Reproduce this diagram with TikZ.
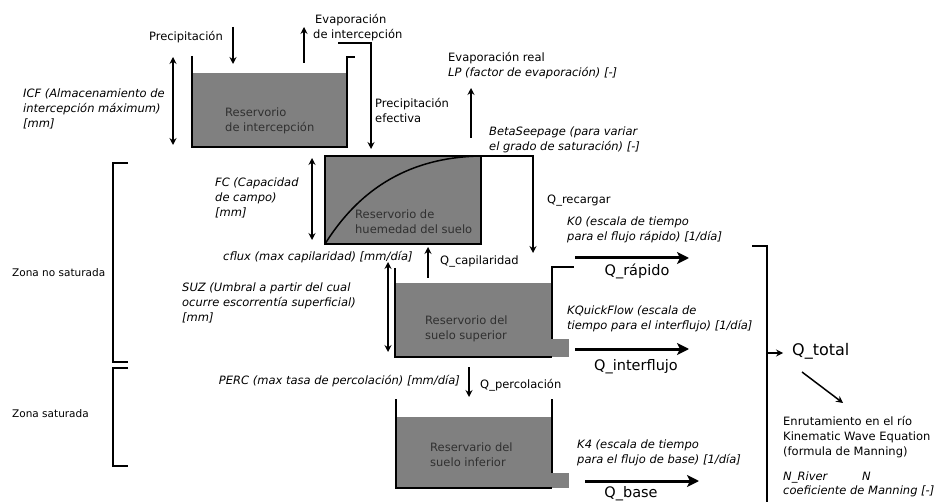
\documentclass[tikz,border=0pt]{standalone}
\usepackage{fontspec}
\setmainfont{DejaVu Sans}
\usetikzlibrary{arrows.meta}
\definecolor{resfill}{RGB}{128,128,128}
\definecolor{restext}{RGB}{48,48,48}
\begin{document}
\begin{tikzpicture}[x=1pt,y=-1pt,
  txt/.style={inner sep=0pt, anchor=north west, align=left, font=\fontsize{11.5}{15}\selectfont},
  itxt/.style={txt, font=\fontsize{11.5}{15}\selectfont\itshape},
  zonetxt/.style={txt, font=\fontsize{10.5}{13}\selectfont},
  restxt/.style={txt, text=restext, font=\fontsize{11.5}{15}\selectfont},
  flowtxt/.style={inner sep=0pt, anchor=north, font=\fontsize{14.5}{17}\selectfont},
  wall/.style={line width=2pt, line join=miter},
  thin/.style={line width=1.5pt, -{Stealth[length=7pt,width=7pt,inset=2.5pt]}},
  dbl/.style={line width=1.4pt, {Stealth[length=7pt,width=7pt,inset=2.5pt]}-{Stealth[length=7pt,width=7pt,inset=2.5pt]}},
  thick/.style={line width=3pt, -{Stealth[length=12pt,width=12pt,inset=3pt]}},
  brk/.style={line width=1.8pt}]
\useasboundingbox (0,0) rectangle (939,502);

% ---------- interception reservoir ----------
\fill[resfill] (192,73) rectangle (347,147);
\draw[wall] (192,56) -- (192,147) -- (347,147) -- (347,57) -- (355,57);
\node[restxt] (r1) at (225,108) {Reservorio\\de intercepción};

\coordinate (p1) at (233,27); \coordinate (p2) at (233,64);
\draw[thin] (p1) -- (p2);
\node[txt, anchor=north east] (prec) at (223,31) {Precipitación};

\coordinate (e1) at (304,63); \coordinate (e2) at (304,27);
\draw[thin, line width=2.2pt] (e1) -- (e2);
\node[txt] (evi) at (313,14) {\hspace*{2pt}Evaporación\\de intercepción};

\coordinate (pe1) at (338,43); \coordinate (pe2) at (371,43); \coordinate (pe3) at (371,149);
\draw[thin] (pe1) -- (pe2) -- (pe3);
\node[txt] (pef) at (375,98) {Precipitación\\efectiva};

\coordinate (icf1) at (173,57); \coordinate (icf2) at (173,145);
\draw[dbl] (icf1) -- (icf2);
\node[itxt] (icf) at (23,89) {ICF (Almacenamiento de\\intercepción máximum)\\{[}mm{]}};

% ---------- soil moisture reservoir ----------
\fill[resfill] (325,156) rectangle (481,244);
\draw[line width=1.5pt] (325,244) .. controls (365,180) and (420,157) .. (481,156);
\draw[wall] (325,156) rectangle (481,244);
\node[restxt] (r2) at (355,210) {Reservorio de\\huemedad del suelo};

\coordinate (qr1) at (481,156); \coordinate (qr2) at (533,156); \coordinate (qr3) at (533,253);
\draw[thin] (qr1) -- (qr2) -- (qr3);
\node[txt] (qrec) at (547,195) {Q\_recargar};

\coordinate (fc1) at (312,158); \coordinate (fc2) at (312,240);
\draw[dbl] (fc1) -- (fc2);
\node[itxt] (fc) at (215,178) {FC (Capacidad\\de campo)\\{[}mm{]}};

\coordinate (ev1) at (471,138); \coordinate (ev2) at (471,88);
\draw[thin] (ev1) -- (ev2);
\node[txt] (evr) at (448,52) {Evaporación real\\\itshape LP (factor de evaporación) [-]};
\node[itxt] (beta) at (489,127) {BetaSeepage (para variar\\el grado de saturación) [-]};

\node[itxt] (cflux) at (223,251) {cflux (max capilaridad) [mm/día]};
\coordinate (qc1) at (428,278); \coordinate (qc2) at (428,247);
\draw[thin] (qc1) -- (qc2);
\node[txt] (qcap) at (440,256) {Q\_capilaridad};

% ---------- upper soil reservoir ----------
\fill[resfill] (395,283) rectangle (552,357);
\fill[resfill] (552,339) rectangle (569,357);
\draw[wall] (395,268) -- (395,357) -- (552,357);
\draw[wall] (552,339) -- (552,267) -- (574,267);
\node[restxt] (r3) at (425,316) {Reservorio del\\suelo superior};

\coordinate (s1) at (388,262); \coordinate (s2) at (388,352);
\draw[dbl] (s1) -- (s2);
\node[itxt] (suz) at (182,283) {SUZ (Umbral a partir del cual\\ocurre escorrentía superficial)\\{[}mm{]}};

\node[itxt] (k0) at (567,217) {K0 (escala de tiempo\\para el flujo rápido) [1/día]};
\coordinate (qa1) at (575,258); \coordinate (qa2) at (689,258);
\draw[thick] (qa1) -- (qa2);
\node[flowtxt] (qrap) at (637,264) {Q\_rápido};

\node[itxt] (kq) at (567,306) {KQuickFlow (escala de\\tiempo para el interflujo) [1/día]};
\coordinate (qi1) at (575,349); \coordinate (qi2) at (689,349);
\draw[thick] (qi1) -- (qi2);
\node[flowtxt] (qint) at (636,359) {Q\_interflujo};

% ---------- percolation ----------
\node[itxt, anchor=north east] (perc) at (460,375) {PERC (max tasa de percolación) [mm/día]};
\coordinate (qp1) at (469,367); \coordinate (qp2) at (469,397);
\draw[thin] (qp1) -- (qp2);
\node[txt] (qperc) at (480,379) {Q\_percolación};

% ---------- lower soil reservoir ----------
\fill[resfill] (396,417) rectangle (552,488);
\fill[resfill] (552,473) rectangle (569,488);
\draw[wall] (396,399) -- (396,488) -- (552,488);
\draw[wall] (552,473) -- (552,399);
\node[restxt] (r4) at (430,443) {Reservario del\\suelo inferior};

\node[itxt] (k4) at (577,440) {K4 (escala de tiempo\\para el flujo de base) [1/día]};
\coordinate (qb1) at (585,481); \coordinate (qb2) at (699,481);
\draw[thick] (qb1) -- (qb2);
\node[flowtxt] (qbase) at (631,486) {Q\_base};

% ---------- zones ----------
\draw[brk] (128,163) -- (113,163) -- (113,362) -- (128,362);
\draw[brk] (128,368) -- (113,368) -- (113,466) -- (128,466);
\node[zonetxt] (zns) at (12,268) {Zona no saturada};
\node[zonetxt] (zs) at (12,409) {Zona saturada};

% ---------- total ----------
\coordinate (b1) at (752,246); \coordinate (b2) at (767,246); \coordinate (b3) at (767,504);
\draw[brk] (b1) -- (b2) -- (b3);
\coordinate (qt1) at (767,353); \coordinate (qt2) at (783,353);
\draw[thin, line width=2pt] (qt1) -- (qt2);
\node[inner sep=0pt, anchor=west, font=\fontsize{16}{19}\selectfont] (qtot) at (792,351) {Q\_total};
\coordinate (d1) at (802,372); \coordinate (d2) at (843,403);
\draw[thin] (d1) -- (d2);
\node[txt] (enr) at (783,416) {Enrutamiento en el río\\Kinematic Wave Equation\\(formula de Manning)};
\node[itxt] (nriv) at (783,472) {N\_River};
\node[itxt] (nn) at (862,472) {N};
\node[itxt] (coef) at (783,486) {coeficiente de Manning [-]};
\end{tikzpicture}
\end{document}
